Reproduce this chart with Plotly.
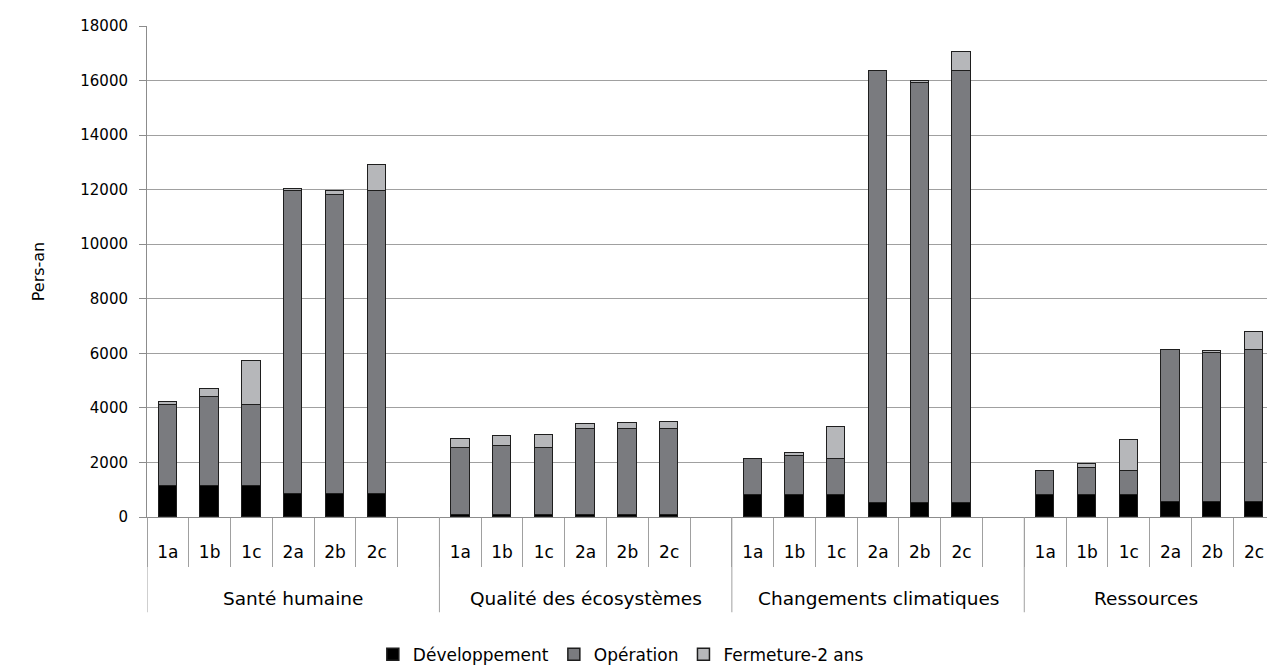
import plotly.graph_objects as go

groups = ["Santé humaine", "Qualité des écosystèmes", "Changements climatiques", "Ressources"]
scenarios = ["1a", "1b", "1c", "2a", "2b", "2c"]

dev = {
    "Santé humaine": [1130, 1130, 1130, 850, 850, 850],
    "Qualité des écosystèmes": [90, 90, 90, 90, 90, 90],
    "Changements climatiques": [820, 820, 820, 510, 510, 510],
    "Ressources": [800, 800, 800, 540, 540, 540],
}
op = {
    "Santé humaine": [2990, 3270, 2990, 11090, 10950, 11090],
    "Qualité des écosystèmes": [2450, 2530, 2450, 3120, 3150, 3120],
    "Changements climatiques": [1315, 1400, 1315, 15850, 15400, 15850],
    "Ressources": [900, 1000, 900, 5580, 5480, 5580],
}
ferm = {
    "Santé humaine": [80, 280, 1590, 80, 160, 960],
    "Qualité des écosystèmes": [330, 340, 480, 200, 200, 270],
    "Changements climatiques": [0, 120, 1150, 0, 90, 690],
    "Ressources": [0, 130, 1110, 0, 60, 660],
}

series = [
    ("Développement", dev, "#000000"),
    ("Opération", op, "#7a7b7f"),
    ("Fermeture-2 ans", ferm, "#b6b7ba"),
]

SLOTS = 7  # 6 scenarios + one empty slot per group
x_pos = []
for g, grp in enumerate(groups):
    for k, s in enumerate(scenarios):
        x_pos.append(g * SLOTS + k)

FONT = "DejaVu Sans"
fig = go.Figure()
for name, data, color in series:
    vals = [v for grp in groups for v in data[grp]]
    fig.add_trace(go.Bar(
        x=x_pos, y=vals, name=name, width=0.44,
        marker=dict(color=color, line=dict(color="#1e1e1e", width=1.5)),
    ))

x_end = 26.31
boundaries = [i - 0.5 for i in range(0, 27)]

fig.update_layout(
    width=1267, height=666,
    barmode="stack",
    plot_bgcolor="white", paper_bgcolor="white",
    margin=dict(l=147, r=0, t=26, b=149),
    font=dict(family=FONT, size=17, color="#000000"),
    showlegend=True,
    legend=dict(orientation="h", xref="container", yref="container",
                x=0.49, xanchor="center", y=0.017, yanchor="middle",
                font=dict(size=17), traceorder="normal", itemwidth=30),
    bargap=0,
)

fig.update_xaxes(
    range=[-0.5, x_end],
    tickmode="array", tickvals=x_pos, ticktext=scenarios * len(groups),
    ticks="outside", ticklen=20, tickcolor="rgba(0,0,0,0)",
    showgrid=False, zeroline=False,
    showline=True, linecolor="#8c8c8c", linewidth=1,
    tickfont=dict(size=17),
    minor=dict(tickmode="array", tickvals=boundaries, ticks="outside",
               ticklen=49, tickcolor="#a0a0a0", tickwidth=1, showgrid=False),
)

fig.update_yaxes(
    range=[0, 18000], dtick=2000, tick0=0, tickformat="d",
    showgrid=True, gridcolor="#a0a0a0", gridwidth=1,
    showline=True, linecolor="#8c8c8c", linewidth=1,
    ticks="outside", ticklen=7, tickcolor="#8c8c8c",
    ticklabelstandoff=8,
    zeroline=False,
    tickfont=dict(size=15),
    title=dict(text="Pers-an", font=dict(size=16), standoff=31),
)

# group separators
for b in [-0.5, 6.5, 13.5, 20.5]:
    fig.add_shape(type="line", xref="x", yref="paper", x0=b, x1=b, y0=0, y1=-0.194,
                  line=dict(color="#a0a0a0", width=1))

# group labels
for g, grp in enumerate(groups):
    left = g * SLOTS - 0.5
    right = min(left + SLOTS, x_end)
    fig.add_annotation(x=(left + right) / 2, y=-0.165, xref="x", yref="paper",
                       text=grp, showarrow=False, yanchor="middle",
                       font=dict(size=18.5, family=FONT))

fig.write_html(
    "out.html",
    config={"displayModeBar": False},
    post_script="document.body.style.margin='0';document.body.style.overflow='hidden';",
)
